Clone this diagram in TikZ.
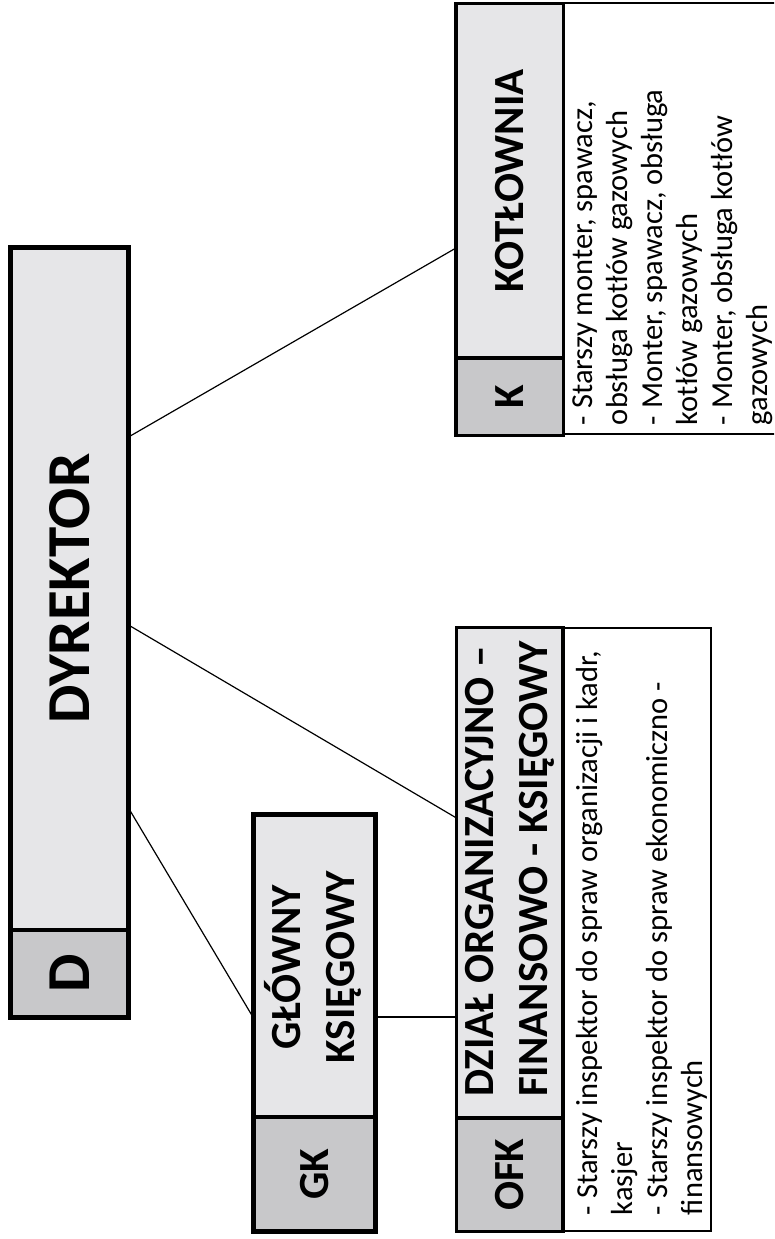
\documentclass[tikz,border=0pt]{standalone}
\usepackage{fontspec}
\setmainfont{Carlito}
\usetikzlibrary{calc}
\definecolor{hdr}{RGB}{230,230,232}
\definecolor{codec}{RGB}{200,200,202}
\begin{document}
\begin{tikzpicture}[x=1pt,y=-1pt,
  cell/.style={inner sep=0pt, outer sep=0pt},
  hdrcell/.style={cell, fill=hdr},
  codecell/.style={cell, fill=codec},
  conn/.style={draw=black, line width=1.2pt},
  heavy/.style={draw=black, line width=5pt},
  medium/.style={draw=black, line width=3.5pt},
  light/.style={draw=black, line width=2pt},
  bigtitle/.style={font=\fontsize{61}{61}\selectfont\bfseries},
  title/.style={font=\fontsize{43}{54}\selectfont\bfseries},
  desc/.style={font=\fontsize{30.5}{35}\selectfont, inner sep=0pt, outer sep=0pt, anchor=south west},
]
\useasboundingbox (0,0) rectangle (774,1239);
\clip (0,0) rectangle (774,1239);

% DYREKTOR
\node[hdrcell, minimum width=118pt, minimum height=682.5pt, bigtitle] (dyr) at (69.5,588.75) {\rotatebox{90}{DYREKTOR}};
\node[codecell, minimum width=118pt, minimum height=87.5pt, bigtitle] (dcode) at (69.5,973.75) {\rotatebox{90}{D}};

% KOTLOWNIA
\node[cell, minimum width=240pt, minimum height=430.5pt] (kd) at (683.5,218.75) {};
\node[hdrcell, minimum width=107.5pt, minimum height=354.5pt, title] (kh) at (509.75,180.75) {\rotatebox{90}{KOTŁOWNIA}};
\node[codecell, minimum width=107.5pt, minimum height=77.5pt, title] (kc) at (509.75,396.75) {\rotatebox{90}{K}};
\node[desc] (kdt) at (567.5,425) {\rotatebox{90}{\begin{tabular}{@{}l@{}}- Starszy monter, spawacz,\\obsługa kotłów gazowych\\- Monter, spawacz, obsługa\\kotłów gazowych\\- Monter, obsługa kotłów\\gazowych\end{tabular}}};

% DZIAL
\node[cell, minimum width=148pt, minimum height=603pt] (dd) at (637,929) {};
\node[hdrcell, minimum width=106.5pt, minimum height=490.5pt] (dh) at (509.75,872.75) {};
\node[title, inner sep=0pt, anchor=south] (dht) at (509.75,1097) {\rotatebox{90}{\begin{tabular}{@{}l@{}}DZIAŁ ORGANIZACYJNO –\\FINANSOWO - KSIĘGOWY\end{tabular}}};
\node[codecell, minimum width=106.5pt, minimum height=113.5pt, title] (dc) at (509.75,1174.75) {\rotatebox{90}{OFK}};
\node[desc] (ddt) at (572.5,1215) {\rotatebox{90}{\begin{tabular}{@{}l@{}}- Starszy inspektor do spraw organizacji i kadr,\\kasjer\\- Starszy inspektor do spraw ekonomiczno -\\finansowych\end{tabular}}};

% GLOWNY
\node[hdrcell, minimum width=122pt, minimum height=302.5pt] (gh) at (314.5,965.75) {};
\node[title, inner sep=0pt] (ght) at (317,967) {\rotatebox{90}{\begin{tabular}{@{}c@{}}GŁÓWNY\\KSIĘGOWY\end{tabular}}};
\node[codecell, minimum width=122pt, minimum height=114.5pt, title] (gc) at (314.5,1174.25) {\rotatebox{90}{GK}};

% connectors
\draw[conn] ($(dyr.north east)+(0,189.5)$) -- ($(kh.north west)+(0,244.5)$);
\draw[conn] ($(dyr.north east)+(0,377.5)$) -- ($(dh.north west)+(0,190.5)$);
\draw[conn] ($(dyr.north east)+(0,560.5)$) -- ($(gh.north west)+(0,203.5)$);
\draw[conn] ($(gh.north east)+(0,202.5)$) -- ($(dh.north west)+(0,389.5)$);

% borders
\draw[light] (kd.north west) rectangle (kd.south east);
\draw[light] (dd.north west) rectangle (dd.south east);
\draw[heavy] (dyr.north west) rectangle (dcode.south east);
\draw[medium] (dyr.south west) -- (dyr.south east);
\draw[medium] (kh.north west) rectangle (kc.south east);
\draw[medium] (kh.south west) -- (kh.south east);
\draw[medium] (dh.north west) rectangle (dc.south east);
\draw[medium] (dh.south west) -- (dh.south east);
\draw[heavy] (gh.north west) rectangle (gc.south east);
\draw[medium] (gh.south west) -- (gh.south east);
\end{tikzpicture}
\end{document}
